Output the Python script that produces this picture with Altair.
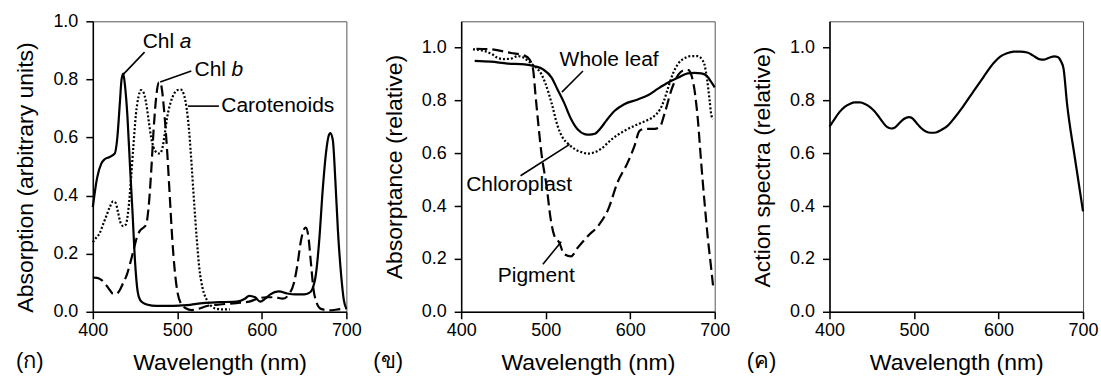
import altair as alt
import pandas as pd

FONT = "Liberation Sans"

# ---------------- Panel (ก): absorption spectra ----------------
chla_nm = [400, 405, 410, 414, 420, 426, 429, 432, 434, 436, 438, 441, 444, 447, 450, 453, 456, 460, 465,
           475, 490, 505, 515, 530, 550, 570, 580, 585, 592, 598, 604, 610, 620, 630, 640, 650, 656, 660,
           664, 668, 672, 676, 679, 681, 684, 687, 690, 694, 697, 700]
chla_val = [0.36, 0.46, 0.51, 0.525, 0.533, 0.545, 0.60, 0.72, 0.80, 0.82, 0.78, 0.67, 0.50, 0.34, 0.17, 0.07,
            0.04, 0.03, 0.024, 0.02, 0.02, 0.022, 0.024, 0.03, 0.033, 0.035, 0.045, 0.055, 0.05, 0.035, 0.045,
            0.06, 0.07, 0.063, 0.06, 0.06, 0.065, 0.08, 0.13, 0.25, 0.42, 0.55, 0.605, 0.615, 0.59, 0.45, 0.28,
            0.12, 0.04, 0.01]

chlb_nm = [400, 405, 410, 415, 420, 424, 428, 432, 436, 440, 444, 448, 452, 456, 460, 463, 466, 469, 472, 475,
           478, 480, 482, 485, 488, 491, 494, 497, 500, 504, 510, 517, 525, 535, 550, 570, 585, 595, 605, 615,
           625, 632, 638, 642, 646, 650, 652, 655, 658, 661, 665, 670, 680, 690, 700]
chlb_val = [0.118, 0.117, 0.11, 0.095, 0.075, 0.062, 0.062, 0.075, 0.10, 0.125, 0.165, 0.21, 0.255, 0.28, 0.29,
            0.30, 0.36, 0.48, 0.63, 0.74, 0.79, 0.79, 0.76, 0.67, 0.55, 0.40, 0.25, 0.14, 0.07, 0.03, 0.012,
            0.006, 0.01, 0.02, 0.025, 0.03, 0.035, 0.045, 0.05, 0.05, 0.045, 0.06, 0.10, 0.16, 0.24, 0.285,
            0.29, 0.26, 0.17, 0.08, 0.03, 0.01, 0.005, 0.008, 0.012]

car_nm = [400, 404, 408, 412, 416, 420, 424, 427, 430, 433, 436, 439, 442, 445, 448, 451, 454, 457, 460, 463,
          466, 469, 472, 476, 479, 482, 485, 488, 492, 496, 500, 504, 508, 511, 514, 517, 520, 523, 526, 530,
          535, 540, 547, 555, 562]
car_val = [0.24, 0.255, 0.27, 0.30, 0.33, 0.36, 0.38, 0.375, 0.34, 0.305, 0.295, 0.30, 0.35, 0.45, 0.57, 0.68,
           0.74, 0.763, 0.755, 0.72, 0.66, 0.60, 0.565, 0.548, 0.545, 0.56, 0.61, 0.67, 0.72, 0.75, 0.763,
           0.765, 0.745, 0.70, 0.62, 0.50, 0.37, 0.25, 0.15, 0.08, 0.04, 0.02, 0.01, 0.008, 0.008]

p1_labels = ["Chl", "Chl", "Carotenoids"]
p1_label_x = [459, 520.4, 552]
p1_label_y = [0.927, 0.831, 0.708]
p1_ital = ["a", "b"]
p1_ital_x = [459, 520.4]
p1_ital_y = [0.927, 0.831]
p1_lead_x1 = [461.2, 516.5, 549.2]
p1_lead_y1 = [0.894, 0.829, 0.708]
p1_lead_x2 = [436.3, 479.7, 512.5]
p1_lead_y2 = [0.818, 0.791, 0.708]

# ---------------- Panel (ข): absorptance ----------------
leaf_nm = [416, 435, 455, 475, 487, 497, 507, 514, 522, 530, 538, 546, 552, 558, 565, 572, 582, 593, 609, 621,
           633, 645, 657, 668, 676, 684, 690, 696, 700]
leaf_val = [0.95, 0.947, 0.94, 0.937, 0.93, 0.918, 0.887, 0.842, 0.79, 0.73, 0.69, 0.673, 0.671, 0.674, 0.695,
            0.725, 0.762, 0.786, 0.804, 0.82, 0.845, 0.868, 0.887, 0.903, 0.905, 0.903, 0.895, 0.87, 0.85]

chloro_nm = [414, 428, 437, 443, 450, 458, 467, 474, 481, 489, 495, 500, 507, 514, 520, 527, 535, 542, 550, 558,
             566, 578, 593, 609, 620, 628, 635, 640, 645, 651, 657, 664, 672, 680, 685, 688, 691, 694, 696, 698]
chloro_val = [0.994, 0.987, 0.975, 0.962, 0.957, 0.958, 0.968, 0.962, 0.945, 0.924, 0.90, 0.862, 0.79, 0.705,
              0.66, 0.635, 0.615, 0.605, 0.599, 0.604, 0.618, 0.653, 0.685, 0.71, 0.725, 0.74, 0.765, 0.80,
              0.85, 0.905, 0.94, 0.96, 0.968, 0.968, 0.955, 0.935, 0.88, 0.80, 0.745, 0.73]

pig_nm = [418, 435, 459, 475, 481, 485, 488, 491, 495, 501, 506, 510, 516, 522, 530, 538, 550, 562, 574, 585,
          597, 605, 611, 617, 629, 635, 641, 649, 657, 664, 669, 672, 676, 680, 684, 688, 692, 696, 698]
pig_val = [0.996, 0.994, 0.98, 0.97, 0.955, 0.92, 0.82, 0.72, 0.60, 0.477, 0.35, 0.29, 0.262, 0.218, 0.21,
           0.243, 0.287, 0.325, 0.388, 0.49, 0.565, 0.627, 0.685, 0.693, 0.693, 0.70, 0.754, 0.842, 0.898,
           0.915, 0.915, 0.90, 0.842, 0.73, 0.565, 0.413, 0.275, 0.16, 0.10]

p2_labels = ["Whole leaf", "Chloroplast", "Pigment"]
p2_label_x = [516.5, 405.9, 443.4]
p2_label_y = [0.953, 0.479, 0.134]
p2_lead_x1 = [544.1, 470.3, 496.7]
p2_lead_y1 = [0.912, 0.515, 0.180]
p2_lead_x2 = [519.2, 528.3, 518.4]
p2_lead_y2 = [0.832, 0.634, 0.265]

# ---------------- Panel (ค): action spectrum ----------------
act_nm = [400, 406, 412, 418, 424, 430, 436, 442, 448, 453, 458, 463, 468, 473, 477, 482, 488, 494, 498, 503,
          508, 514, 520, 526, 532, 540, 548, 558, 570, 582, 594, 602, 610, 618, 626, 634, 641, 648, 654, 660,
          666, 670, 674, 677, 681, 690, 700]
act_val = [0.701, 0.73, 0.757, 0.776, 0.787, 0.793, 0.793, 0.787, 0.775, 0.76, 0.74, 0.718, 0.70, 0.694, 0.697,
           0.712, 0.73, 0.737, 0.733, 0.715, 0.697, 0.683, 0.678, 0.679, 0.688, 0.705, 0.735, 0.777, 0.833,
           0.888, 0.941, 0.966, 0.979, 0.985, 0.985, 0.982, 0.97, 0.957, 0.955, 0.962, 0.967, 0.965, 0.948,
           0.92, 0.79, 0.59, 0.38]

panel_tags = ["(ก)", "(ข)", "(ค)"]
y_titles = ["Absorption (arbitrary units)", "Absorptance (relative)", "Action spectra (relative)"]
x_ticks = [400, 500, 600, 700]
y_ticks = [0.0, 0.2, 0.4, 0.6, 0.8, 1.0]

W, H = 254, 291


def enc_x(field, ymax):
    return alt.X(field, type="quantitative",
                 scale=alt.Scale(domain=[400, 700], nice=False, zero=False),
                 axis=alt.Axis(values=x_ticks, title="Wavelength (nm)", format="d"))


def enc_y(field, ymax, title, title_y=None):
    ax = dict(values=y_ticks, title=title, format=".1f")
    if title_y is not None:
        ax["titleY"] = title_y
    return alt.Y(field, type="quantitative",
                 scale=alt.Scale(domain=[0, ymax], nice=False, zero=True),
                 axis=alt.Axis(**ax))


def make_panel(series, labels, lx, ly, l1x, l1y, l2x, l2y, ymax, title, tag, tag_dx,
               ital=None, title_y=None):
    layers = []
    for nm, val, dash, sw in series:
        df = pd.DataFrame({"nm": nm, "v": val})
        kw = dict(color="black", strokeWidth=sw, interpolate="monotone")
        if dash:
            kw["strokeDash"] = dash
        layers.append(alt.Chart(df).mark_line(**kw).encode(
            x=enc_x("nm", ymax), y=enc_y("v", ymax, title, title_y)))
    if labels:
        lead = pd.DataFrame({"x1": l1x, "y1": l1y, "x2": l2x, "y2": l2y})
        layers.append(alt.Chart(lead).mark_rule(color="black", strokeWidth=1.6).encode(
            x=enc_x("x1", ymax), y=enc_y("y1", ymax, title, title_y), x2="x2:Q", y2="y2:Q"))
        txt = pd.DataFrame({"x": lx, "y": ly, "t": labels})
        layers.append(alt.Chart(txt).mark_text(
            align="left", baseline="middle", font=FONT, fontSize=21, color="black").encode(
            x=enc_x("x", ymax), y=enc_y("y", ymax, title, title_y), text="t:N"))
    if ital:
        it = pd.DataFrame({"x": ital[1], "y": ital[2], "t": ital[0]})
        layers.append(alt.Chart(it).mark_text(
            align="left", baseline="middle", font=FONT, fontSize=21, fontStyle="italic",
            color="black", dx=37).encode(
            x=enc_x("x", ymax), y=enc_y("y", ymax, title, title_y), text="t:N"))
    tagdf = pd.DataFrame({"t": [tag]})
    layers.append(alt.Chart(tagdf).mark_text(
        align="left", baseline="middle", font=FONT, fontSize=22, color="black").encode(
        x=alt.value(tag_dx), y=alt.value(340), text="t:N"))
    return alt.layer(*layers).properties(width=W, height=H)


p1 = make_panel(
    [(chla_nm, chla_val, None, 2.2), (chlb_nm, chlb_val, [11, 5], 2.2), (car_nm, car_val, [2, 2], 2.2)],
    p1_labels, p1_label_x, p1_label_y, p1_lead_x1, p1_lead_y1, p1_lead_x2, p1_lead_y2,
    1.0, y_titles[0], panel_tags[0], -77, ital=(p1_ital, p1_ital_x, p1_ital_y), title_y=156)

p2 = make_panel(
    [(leaf_nm, leaf_val, None, 2.2), (chloro_nm, chloro_val, [2, 2], 2.2), (pig_nm, pig_val, [11, 5], 2.2)],
    p2_labels, p2_label_x, p2_label_y, p2_lead_x1, p2_lead_y1, p2_lead_x2, p2_lead_y2,
    1.1, y_titles[1], panel_tags[1], -88)

p3 = make_panel(
    [(act_nm, act_val, None, 2.2)],
    None, None, None, None, None, None, None,
    1.1, y_titles[2], panel_tags[2], -83)

chart = alt.hconcat(p1, p2, p3, spacing=115, bounds="flush").properties(
    padding={"left": 14, "top": 11, "right": 2, "bottom": 2},
    background="white",
).configure_view(
    stroke="#555", strokeWidth=1
).configure_axis(
    grid=False, domainColor="black", domainWidth=1.5, tickColor="black", tickWidth=1.5, tickSize=7,
    labelFont=FONT, labelFontSize=18, labelColor="black", labelFlush=False, labelOverlap=False,
    titleFont=FONT, titleFontSize=23, titleFontWeight="normal", titleColor="black",
).configure_axisX(
    labelPadding=3, titlePadding=12
).configure_axisY(
    labelPadding=8, titlePadding=15
)

chart.save("out.html", embed_options={"renderer": "svg", "actions": False})
